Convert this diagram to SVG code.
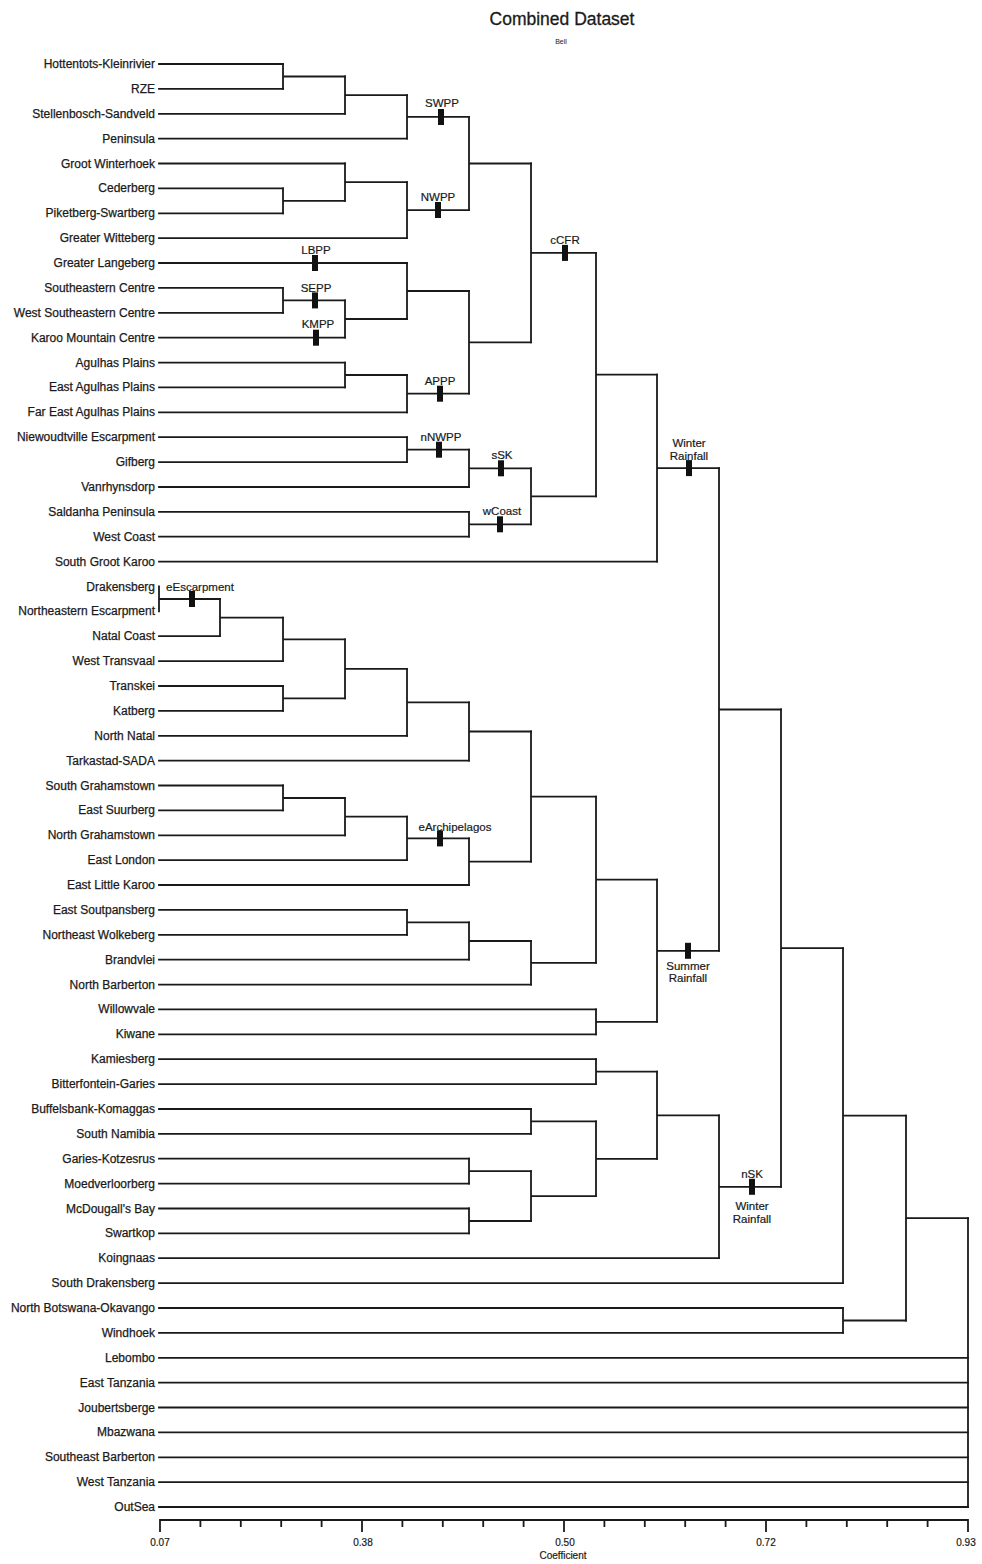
<svg xmlns="http://www.w3.org/2000/svg" width="982" height="1564" viewBox="0 0 982 1564">
<style>
.bg{fill:#ffffff}
.lbl{font-family:"Liberation Sans",Arial,sans-serif;font-size:12px;fill:#1a1a1a;stroke:#1a1a1a;stroke-width:0.25;text-anchor:end}
.ann{font-family:"Liberation Sans",Arial,sans-serif;font-size:11.5px;fill:#1a1a1a;stroke:#1a1a1a;stroke-width:0.2;text-anchor:middle}
.ax{font-family:"Liberation Sans",Arial,sans-serif;font-size:10px;fill:#1a1a1a;stroke:#1a1a1a;stroke-width:0.2;text-anchor:middle}
.c{fill:none;stroke:#1a1a1a;stroke-width:1.8;stroke-linecap:square}
.mk{fill:#111}
</style>
<rect class="bg" x="0" y="0" width="982" height="1564"/>
<g id="title">
<text x="562" y="25" style="font-family:'Liberation Sans',Arial,sans-serif;font-size:17.5px;fill:#1a1a1a;stroke:#1a1a1a;stroke-width:0.3;text-anchor:middle">Combined Dataset</text>
<text x="561" y="44" style="font-family:'Liberation Sans',Arial,sans-serif;font-size:7px;fill:#1a1a1a;text-anchor:middle">Bell</text>
</g>
<g id="connectors" class="c">
<path id="leaf-lines" d="M159 64H283 M159 88.9H283 M159 113.8H345 M159 138.6H407 M159 163.5H345 M159 188.4H283 M159 213.3H283 M159 238.2H407 M159 263H407 M159 287.9H283 M159 312.8H283 M159 337.7H345 M159 362.6H345 M159 387.4H345 M159 412.3H407 M159 437.2H407 M159 462.1H407 M159 487H469 M159 511.8H469 M159 536.7H469 M159 561.6H657 M159 636.2H220 M159 661.1H283 M159 686H283 M159 710.9H283 M159 735.8H407 M159 760.6H469 M159 785.5H283 M159 810.4H283 M159 835.3H345 M159 860.2H407 M159 885H469 M159 909.9H407 M159 934.8H407 M159 959.7H469 M159 984.6H531 M159 1009.4H596 M159 1034.3H596 M159 1059.2H596 M159 1084.1H596 M159 1109H531 M159 1133.8H531 M159 1158.7H469 M159 1183.6H469 M159 1208.5H469 M159 1233.4H469 M159 1258.2H719 M159 1283.1H843 M159 1308H843 M159 1332.9H843 M159 1357.8H968 M159 1382.6H968 M159 1407.5H968 M159 1432.4H968 M159 1457.3H968 M159 1482.2H968 M159 1507H968"/>
<path d="M283 64V88.9 M283 76.5H345"/>
<path d="M345 76.5V113.8 M345 95.1H407"/>
<path d="M407 95.1V138.6 M407 116.9H469"/>
<path d="M283 188.4V213.3 M283 200.9H345"/>
<path d="M345 163.5V200.9 M345 182.2H407"/>
<path d="M407 182.2V238.2 M407 210.2H469"/>
<path d="M469 116.9V210.2 M469 163.5H531"/>
<path d="M283 287.9V312.8 M283 300.4H345"/>
<path d="M345 300.4V337.7 M345 319H407"/>
<path d="M407 263V319 M407 291H469"/>
<path d="M345 362.6V387.4 M345 375H407"/>
<path d="M407 375V412.3 M407 393.7H469"/>
<path d="M469 291V393.7 M469 342.3H531"/>
<path d="M531 163.5V342.3 M531 252.9H596"/>
<path d="M407 437.2V462.1 M407 449.7H469"/>
<path d="M469 449.7V487 M469 468.3H531"/>
<path d="M469 511.8V536.7 M469 524.3H531"/>
<path d="M531 468.3V524.3 M531 496.3H596"/>
<path d="M596 252.9V496.3 M596 374.6H657"/>
<path d="M657 374.6V561.6 M657 468.1H719"/>
<path d="M159 586.5V611.4 M159 599H220"/>
<path d="M220 599V636.2 M220 617.6H283"/>
<path d="M283 617.6V661.1 M283 639.3H345"/>
<path d="M283 686V710.9 M283 698.4H345"/>
<path d="M345 639.3V698.4 M345 668.9H407"/>
<path d="M407 668.9V735.8 M407 702.3H469"/>
<path d="M469 702.3V760.6 M469 731.5H531"/>
<path d="M283 785.5V810.4 M283 798H345"/>
<path d="M345 798V835.3 M345 816.6H407"/>
<path d="M407 816.6V860.2 M407 838.4H469"/>
<path d="M469 838.4V885 M469 861.7H531"/>
<path d="M531 731.5V861.7 M531 796.6H596"/>
<path d="M407 909.9V934.8 M407 922.3H469"/>
<path d="M469 922.3V959.7 M469 941H531"/>
<path d="M531 941V984.6 M531 962.8H596"/>
<path d="M596 796.6V962.8 M596 879.7H657"/>
<path d="M596 1009.4V1034.3 M596 1021.9H657"/>
<path d="M657 879.7V1021.9 M657 950.8H719"/>
<path d="M719 468.1V950.8 M719 709.5H781"/>
<path d="M596 1059.2V1084.1 M596 1071.7H657"/>
<path d="M531 1109V1133.8 M531 1121.4H596"/>
<path d="M469 1158.7V1183.6 M469 1171.2H531"/>
<path d="M469 1208.5V1233.4 M469 1221H531"/>
<path d="M531 1171.2V1221 M531 1196.1H596"/>
<path d="M596 1121.4V1196.1 M596 1158.8H657"/>
<path d="M657 1071.7V1158.8 M657 1115.3H719"/>
<path d="M719 1115.3V1258.2 M719 1186.8H781"/>
<path d="M781 709.5V1186.8 M781 948.2H843"/>
<path d="M843 948.2V1283.1 M843 1115.7H906"/>
<path d="M843 1308V1332.9 M843 1320.5H906"/>
<path d="M906 1115.7V1320.5 M906 1218.1H968"/>
<path d="M968 1218.1V1507"/>
</g>
<g id="leaves" class="lbl">
<g id="leaf-01"><text x="155" y="68">Hottentots-Kleinrivier</text></g>
<g id="leaf-02"><text x="155" y="92.9">RZE</text></g>
<g id="leaf-03"><text x="155" y="117.8">Stellenbosch-Sandveld</text></g>
<g id="leaf-04"><text x="155" y="142.6">Peninsula</text></g>
<g id="leaf-05"><text x="155" y="167.5">Groot Winterhoek</text></g>
<g id="leaf-06"><text x="155" y="192.4">Cederberg</text></g>
<g id="leaf-07"><text x="155" y="217.3">Piketberg-Swartberg</text></g>
<g id="leaf-08"><text x="155" y="242.2">Greater Witteberg</text></g>
<g id="leaf-09"><text x="155" y="267">Greater Langeberg</text></g>
<g id="leaf-10"><text x="155" y="291.9">Southeastern Centre</text></g>
<g id="leaf-11"><text x="155" y="316.8">West Southeastern Centre</text></g>
<g id="leaf-12"><text x="155" y="341.7">Karoo Mountain Centre</text></g>
<g id="leaf-13"><text x="155" y="366.6">Agulhas Plains</text></g>
<g id="leaf-14"><text x="155" y="391.4">East Agulhas Plains</text></g>
<g id="leaf-15"><text x="155" y="416.3">Far East Agulhas Plains</text></g>
<g id="leaf-16"><text x="155" y="441.2">Niewoudtville Escarpment</text></g>
<g id="leaf-17"><text x="155" y="466.1">Gifberg</text></g>
<g id="leaf-18"><text x="155" y="491">Vanrhynsdorp</text></g>
<g id="leaf-19"><text x="155" y="515.8">Saldanha Peninsula</text></g>
<g id="leaf-20"><text x="155" y="540.7">West Coast</text></g>
<g id="leaf-21"><text x="155" y="565.6">South Groot Karoo</text></g>
<g id="leaf-22"><text x="155" y="590.5">Drakensberg</text></g>
<g id="leaf-23"><text x="155" y="615.4">Northeastern Escarpment</text></g>
<g id="leaf-24"><text x="155" y="640.2">Natal Coast</text></g>
<g id="leaf-25"><text x="155" y="665.1">West Transvaal</text></g>
<g id="leaf-26"><text x="155" y="690">Transkei</text></g>
<g id="leaf-27"><text x="155" y="714.9">Katberg</text></g>
<g id="leaf-28"><text x="155" y="739.8">North Natal</text></g>
<g id="leaf-29"><text x="155" y="764.6">Tarkastad-SADA</text></g>
<g id="leaf-30"><text x="155" y="789.5">South Grahamstown</text></g>
<g id="leaf-31"><text x="155" y="814.4">East Suurberg</text></g>
<g id="leaf-32"><text x="155" y="839.3">North Grahamstown</text></g>
<g id="leaf-33"><text x="155" y="864.2">East London</text></g>
<g id="leaf-34"><text x="155" y="889">East Little Karoo</text></g>
<g id="leaf-35"><text x="155" y="913.9">East Soutpansberg</text></g>
<g id="leaf-36"><text x="155" y="938.8">Northeast Wolkeberg</text></g>
<g id="leaf-37"><text x="155" y="963.7">Brandvlei</text></g>
<g id="leaf-38"><text x="155" y="988.6">North Barberton</text></g>
<g id="leaf-39"><text x="155" y="1013.4">Willowvale</text></g>
<g id="leaf-40"><text x="155" y="1038.3">Kiwane</text></g>
<g id="leaf-41"><text x="155" y="1063.2">Kamiesberg</text></g>
<g id="leaf-42"><text x="155" y="1088.1">Bitterfontein-Garies</text></g>
<g id="leaf-43"><text x="155" y="1113">Buffelsbank-Komaggas</text></g>
<g id="leaf-44"><text x="155" y="1137.8">South Namibia</text></g>
<g id="leaf-45"><text x="155" y="1162.7">Garies-Kotzesrus</text></g>
<g id="leaf-46"><text x="155" y="1187.6">Moedverloorberg</text></g>
<g id="leaf-47"><text x="155" y="1212.5">McDougall's Bay</text></g>
<g id="leaf-48"><text x="155" y="1237.4">Swartkop</text></g>
<g id="leaf-49"><text x="155" y="1262.2">Koingnaas</text></g>
<g id="leaf-50"><text x="155" y="1287.1">South Drakensberg</text></g>
<g id="leaf-51"><text x="155" y="1312">North Botswana-Okavango</text></g>
<g id="leaf-52"><text x="155" y="1336.9">Windhoek</text></g>
<g id="leaf-53"><text x="155" y="1361.8">Lebombo</text></g>
<g id="leaf-54"><text x="155" y="1386.6">East Tanzania</text></g>
<g id="leaf-55"><text x="155" y="1411.5">Joubertsberge</text></g>
<g id="leaf-56"><text x="155" y="1436.4">Mbazwana</text></g>
<g id="leaf-57"><text x="155" y="1461.3">Southeast Barberton</text></g>
<g id="leaf-58"><text x="155" y="1486.2">West Tanzania</text></g>
<g id="leaf-59"><text x="155" y="1511">OutSea</text></g>
</g>
<g id="markers">
<g id="m-swpp"><rect class="mk" x="438" y="109" width="6" height="16"/><text class="ann" x="442" y="107">SWPP</text></g>
<g id="m-nwpp"><rect class="mk" x="435" y="202" width="6" height="16"/><text class="ann" x="438" y="201">NWPP</text></g>
<g id="m-lbpp"><rect class="mk" x="312" y="255" width="6" height="16"/><text class="ann" x="316" y="254">LBPP</text></g>
<g id="m-sepp"><rect class="mk" x="312" y="292.4" width="6" height="16"/><text class="ann" x="316" y="292">SEPP</text></g>
<g id="m-kmpp"><rect class="mk" x="313" y="329.7" width="6" height="16"/><text class="ann" x="318" y="328">KMPP</text></g>
<g id="m-appp"><rect class="mk" x="437" y="385.7" width="6" height="16"/><text class="ann" x="440" y="385">APPP</text></g>
<g id="m-nnwpp"><rect class="mk" x="436" y="441.7" width="6" height="16"/><text class="ann" x="441" y="441">nNWPP</text></g>
<g id="m-ssk"><rect class="mk" x="498" y="460.3" width="6" height="16"/><text class="ann" x="502" y="459">sSK</text></g>
<g id="m-wcoast"><rect class="mk" x="497" y="516.3" width="6" height="16"/><text class="ann" x="502" y="515">wCoast</text></g>
<g id="m-ccfr"><rect class="mk" x="562" y="244.9" width="6" height="16"/><text class="ann" x="565" y="244">cCFR</text></g>
<g id="m-winter"><rect class="mk" x="686" y="460.1" width="6" height="16"/><text class="ann" x="689" y="447">Winter</text><text class="ann" x="689" y="460">Rainfall</text></g>
<g id="m-eesc"><rect class="mk" x="189" y="591" width="6" height="16"/><text class="ann" x="200" y="591">eEscarpment</text></g>
<g id="m-earch"><rect class="mk" x="437" y="830.4" width="6" height="16"/><text class="ann" x="455" y="831">eArchipelagos</text></g>
<g id="m-summer"><rect class="mk" x="685" y="942.8" width="6" height="16"/><text class="ann" x="688" y="970">Summer</text><text class="ann" x="688" y="982">Rainfall</text></g>
<g id="m-nsk"><rect class="mk" x="749" y="1178.8" width="6" height="16"/><text class="ann" x="752" y="1178">nSK</text><text class="ann" x="752" y="1210">Winter</text><text class="ann" x="752" y="1223">Rainfall</text></g>
</g>
<g id="axis">
<path class="c" d="M160 1520H968 M160 1520V1531 M200.4 1520V1526 M240.8 1520V1526 M281.2 1520V1526 M321.6 1520V1526 M362 1520V1531 M402.4 1520V1526 M442.8 1520V1526 M483.2 1520V1526 M523.6 1520V1526 M564 1520V1531 M604.4 1520V1526 M644.8 1520V1526 M685.2 1520V1526 M725.6 1520V1526 M766 1520V1531 M806.4 1520V1526 M846.8 1520V1526 M887.2 1520V1526 M927.6 1520V1526 M968 1520V1531"/>
<text class="ax" x="160" y="1546">0.07</text>
<text class="ax" x="363" y="1546">0.38</text>
<text class="ax" x="565" y="1546">0.50</text>
<text class="ax" x="766" y="1546">0.72</text>
<text class="ax" x="966" y="1546">0.93</text>
<text class="ax" x="563" y="1559">Coefficient</text>
</g>
</svg>
